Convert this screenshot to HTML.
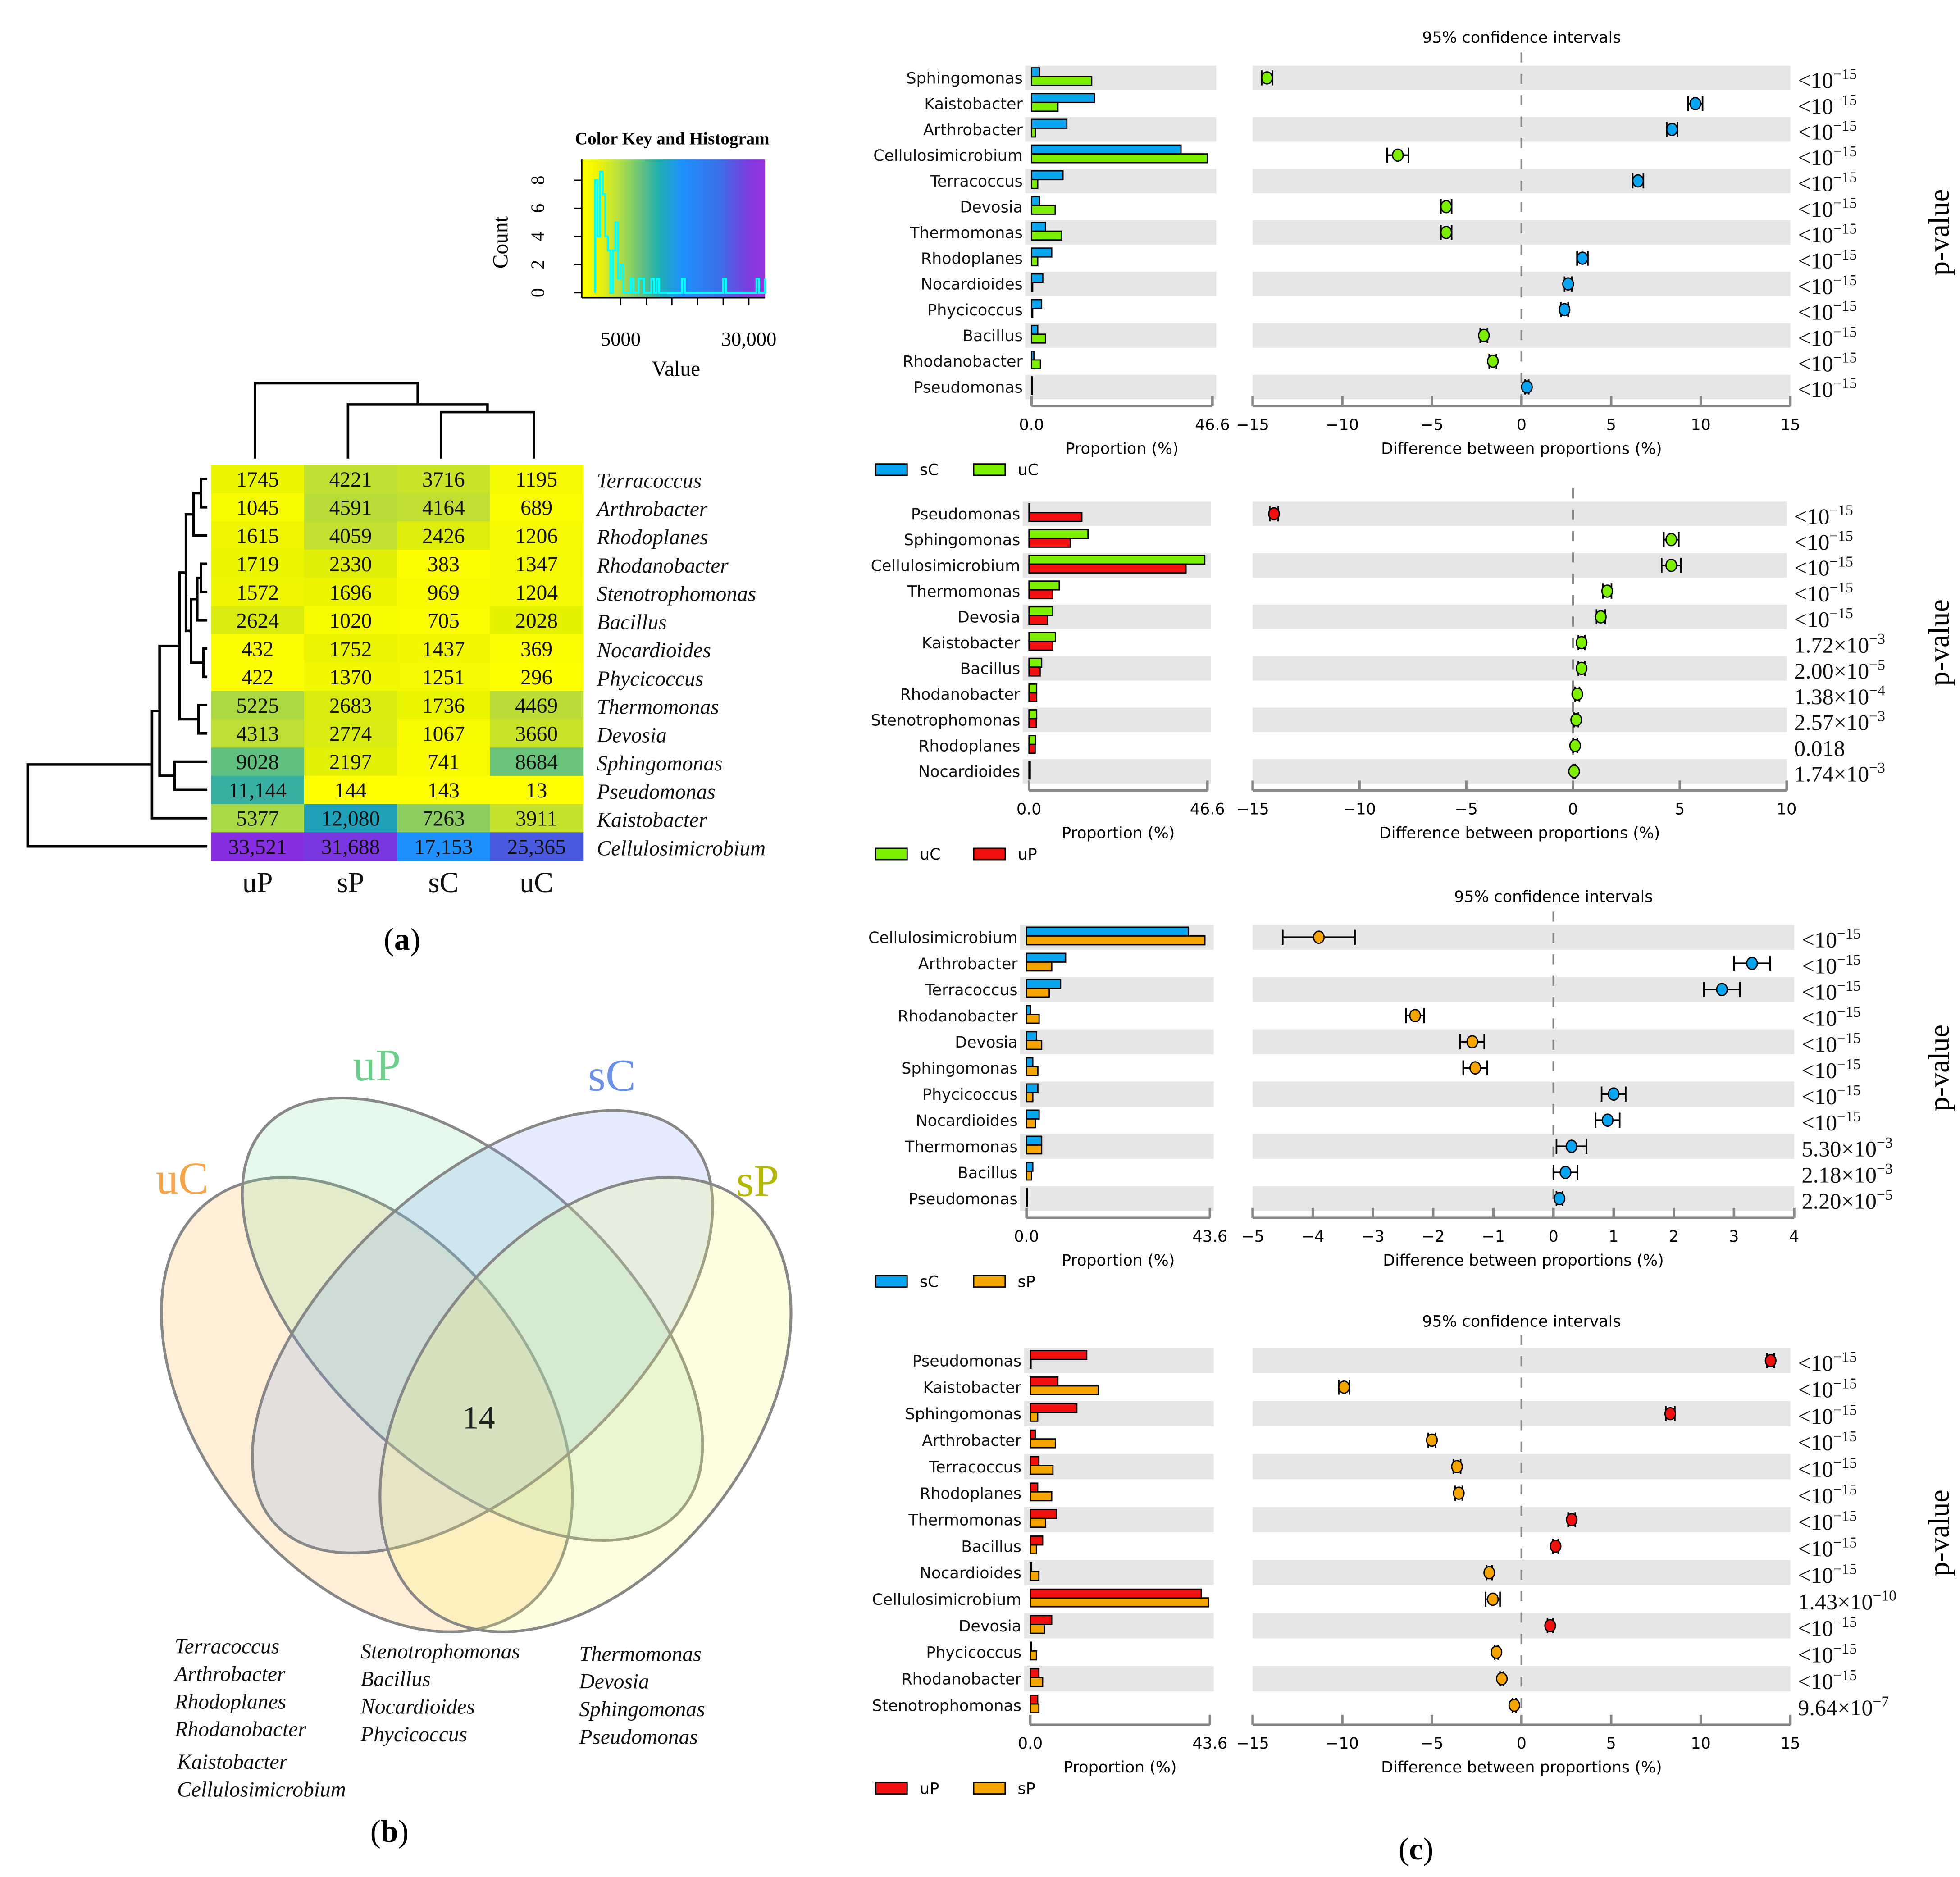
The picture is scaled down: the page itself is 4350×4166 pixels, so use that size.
<!DOCTYPE html>
<html><head><meta charset="utf-8"><title>Microbial community figure</title>
<style>
html,body{margin:0;padding:0;background:#fff;}
svg{display:block;}
.serif{font-family:"Liberation Serif","DejaVu Serif",serif;}
.sans{font-family:"DejaVu Sans","Liberation Sans",sans-serif;}
</style></head>
<body>
<svg id="fig" xmlns="http://www.w3.org/2000/svg" width="4350" height="4166" viewBox="0 0 1560 1494" preserveAspectRatio="none">
<rect x="0" y="0" width="1560" height="1494" fill="#fff"/>
<g id="panelA"></g>
<g id="panelB">
  <ellipse cx="292" cy="1118" rx="205" ry="132" transform="rotate(52 292 1118)" fill="rgb(250,190,90)" fill-opacity="0.25" stroke="#888" stroke-width="2.2"/>
  <ellipse cx="376" cy="1050" rx="225" ry="118" transform="rotate(43 376 1050)" fill="rgb(120,220,160)" fill-opacity="0.2" stroke="#888" stroke-width="2.2"/>
  <ellipse cx="384" cy="1060" rx="225" ry="118" transform="rotate(-43 384 1060)" fill="rgb(120,160,250)" fill-opacity="0.2" stroke="#888" stroke-width="2.2"/>
  <ellipse cx="466" cy="1118" rx="205" ry="132" transform="rotate(-52 466 1118)" fill="rgb(245,245,110)" fill-opacity="0.22" stroke="#888" stroke-width="2.2"/>
  <text x="300" y="860" class="serif" font-size="36" fill="#6dd08a" text-anchor="middle">uP</text>
  <text x="487" y="868" class="serif" font-size="36" fill="#6a90e8" text-anchor="middle">sC</text>
  <text x="145" y="950" class="serif" font-size="36" fill="#f5a54a" text-anchor="middle">uC</text>
  <text x="603" y="952" class="serif" font-size="36" fill="#b5b800" text-anchor="middle">sP</text>
  <text x="381" y="1137" class="serif" font-size="26" fill="#222" text-anchor="middle">14</text>
  <g class="serif" font-size="17" font-style="italic" fill="#111">
    <text x="139" y="1316">Terracoccus</text><text x="139" y="1338">Arthrobacter</text><text x="139" y="1360">Rhodoplanes</text><text x="139" y="1382">Rhodanobacter</text><text x="141" y="1408">Kaistobacter</text><text x="141" y="1430">Cellulosimicrobium</text>
    <text x="287" y="1320">Stenotrophomonas</text><text x="287" y="1342">Bacillus</text><text x="287" y="1364">Nocardioides</text><text x="287" y="1386">Phycicoccus</text>
    <text x="461" y="1322">Thermomonas</text><text x="461" y="1344">Devosia</text><text x="461" y="1366">Sphingomonas</text><text x="461" y="1388">Pseudomonas</text>
  </g>
</g>
<g class="serif" font-size="25" fill="#000">
  <text x="320" y="756" text-anchor="middle">(<tspan font-weight="bold">a</tspan>)</text>
  <text x="310" y="1466" text-anchor="middle">(<tspan font-weight="bold">b</tspan>)</text>
  <text x="1127" y="1480" text-anchor="middle">(<tspan font-weight="bold">c</tspan>)</text>
</g>
<g id="panelC"></g>
</svg>
<script>
const hmTaxa = ["Terracoccus","Arthrobacter","Rhodoplanes","Rhodanobacter","Stenotrophomonas","Bacillus","Nocardioides","Phycicoccus","Thermomonas","Devosia","Sphingomonas","Pseudomonas","Kaistobacter","Cellulosimicrobium"];
const hmSamples = ["uP","sP","sC","uC"];
const hmUP = [1745,1045,1615,1719,1572,2624,432,422,5225,4313,9028,11144,5377,33521];
const hmSP = [4221,4591,4059,2330,1696,1020,1752,1370,2683,2774,2197,144,12080,31688];
const hmSC = [3716,4164,2426,383,969,705,1437,1251,1736,1067,741,143,7263,17153];
const hmUC = [1195,689,1206,1347,1204,2028,369,296,4469,3660,8684,13,3911,25365];
const keyTicks = [5000,30000];
const countTicks = [0,2,4,6,8];
const rowMerges = [[0,1,160],[14,2,154],[3,4,160],[6,7,162],[16,5,157],[18,17,152],[15,19,148],[8,9,158],[20,21,143],[10,11,139],[22,23,127],[24,12,121],[25,13,22]];
const colMerges = [[2,3,328],[1,4,322],[0,5,305]];

const p1Taxa = ["Sphingomonas","Kaistobacter","Arthrobacter","Cellulosimicrobium","Terracoccus","Devosia","Thermomonas","Rhodoplanes","Nocardioides","Phycicoccus","Bacillus","Rhodanobacter","Pseudomonas"];
const p1SC = [2.0,16.2,9.1,38.5,8.1,2.0,3.6,5.2,2.9,2.6,1.6,0.6,0.1];
const p1UC = [15.5,6.8,1.0,45.3,1.6,6.1,7.8,1.6,0.3,0.3,3.6,2.3,0.05];
const p1Diff = [-14.2,9.7,8.4,-6.9,6.5,-4.2,-4.2,3.4,2.6,2.4,-2.1,-1.6,0.3];
const p1CI = [0.3,0.4,0.3,0.6,0.3,0.3,0.3,0.3,0.2,0.2,0.2,0.2,0.1];
const p1P = ["<15","<15","<15","<15","<15","<15","<15","<15","<15","<15","<15","<15","<15"];
const p1Ticks = [-15,-10,-5,0,5,10,15];

const p2Taxa = ["Pseudomonas","Sphingomonas","Cellulosimicrobium","Thermomonas","Devosia","Kaistobacter","Bacillus","Rhodanobacter","Stenotrophomonas","Rhodoplanes","Nocardioides"];
const p2UC = [0.05,15.4,45.9,7.9,6.2,6.9,3.3,2.0,2.0,1.7,0.3];
const p2UP = [13.8,10.8,41.0,6.2,4.9,6.2,2.9,2.0,1.9,1.6,0.3];
const p2Diff = [-14.0,4.6,4.6,1.6,1.3,0.4,0.4,0.2,0.15,0.1,0.05];
const p2CI = [0.2,0.35,0.45,0.2,0.2,0.15,0.15,0.1,0.1,0.1,0.05];
const p2P = ["<15","<15","<15","<15","<15","1.72|3","2.00|5","1.38|4","2.57|3","0.018","1.74|3"];
const p2Ticks = [-15,-10,-5,0,5,10];

const p3Taxa = ["Cellulosimicrobium","Arthrobacter","Terracoccus","Rhodanobacter","Devosia","Sphingomonas","Phycicoccus","Nocardioides","Thermomonas","Bacillus","Pseudomonas"];
const p3SC = [38.5,9.3,8.1,0.9,2.4,1.5,2.7,3.0,3.6,1.5,0.1];
const p3SP = [42.4,6.0,5.4,3.0,3.6,2.7,1.5,2.1,3.6,1.2,0.05];
const p3Diff = [-3.9,3.3,2.8,-2.3,-1.35,-1.3,1.0,0.9,0.3,0.2,0.1];
const p3CI = [0.6,0.3,0.3,0.15,0.2,0.2,0.2,0.2,0.25,0.2,0.05];
const p3P = ["<15","<15","<15","<15","<15","<15","<15","<15","5.30|3","2.18|3","2.20|5"];
const p3Ticks = [-5,-4,-3,-2,-1,0,1,2,3,4];

const p4Taxa = ["Pseudomonas","Kaistobacter","Sphingomonas","Arthrobacter","Terracoccus","Rhodoplanes","Thermomonas","Bacillus","Nocardioides","Cellulosimicrobium","Devosia","Phycicoccus","Rhodanobacter","Stenotrophomonas"];
const p4UP = [13.7,6.7,11.3,1.2,2.1,1.8,6.4,3.0,0.3,41.5,5.2,0.3,2.1,1.8];
const p4SP = [0.05,16.5,1.8,6.1,5.5,5.2,3.7,1.5,2.1,43.3,3.4,1.5,3.0,2.1];
const p4Diff = [13.9,-9.9,8.3,-5.0,-3.6,-3.5,2.8,1.9,-1.8,-1.6,1.6,-1.4,-1.1,-0.4];
const p4CI = [0.2,0.3,0.25,0.2,0.2,0.2,0.2,0.15,0.15,0.4,0.15,0.1,0.1,0.1];
const p4P = ["<15","<15","<15","<15","<15","<15","<15","<15","<15","1.43|10","<15","<15","<15","9.64|7"];
const p4Ticks = [-15,-10,-5,0,5,10,15];

const NS = "http://www.w3.org/2000/svg";
function el(tag, attrs, parent){
  const e = document.createElementNS(NS, tag);
  for (const k in attrs) e.setAttribute(k, attrs[k]);
  parent.appendChild(e);
  return e;
}
function fmt(v){ return v >= 10000 ? v.toLocaleString("en-US") : String(v); }

const cStops = [[0,[255,255,0]],[1200,[246,250,0]],[2000,[228,242,0]],[4000,[196,224,48]],[5400,[168,216,70]],[7300,[140,204,96]],[9000,[96,192,128]],[11100,[56,176,160]],[12100,[30,160,184]],[17100,[30,144,255]],[25300,[74,90,224]],[34000,[140,43,226]]];
function colorOf(v){
  for (let i=1;i<cStops.length;i++){
    if (v <= cStops[i][0]){
      const a=cStops[i-1], b=cStops[i], t=(v-a[0])/(b[0]-a[0]);
      const c=a[1].map((x,j)=>Math.round(x+(b[1][j]-x)*t));
      return "rgb("+c.join(",")+")";
    }
  }
  return "rgb(140,43,226)";
}

(function(){
  const g = document.getElementById("panelA");
  const x0=168, cw=74, y0=370, rh=22.5;
  const cols=[hmUP,hmSP,hmSC,hmUC];
  const rowY = i => y0 + rh*i + rh/2;
  const colX = j => x0 + cw*j + cw/2;
  for (let i=0;i<hmTaxa.length;i++){
    for (let j=0;j<4;j++){
      const v = cols[j][i];
      const r = el("rect",{x:x0+cw*j, y:y0+rh*i, width:cw+0.5, height:rh+0.5, fill:colorOf(v)}, g);
      
      
      const t = el("text",{x:colX(j), y:rowY(i)+6, "text-anchor":"middle", "font-size":17, class:"serif", fill:"#111"}, g);
      t.textContent = fmt(v);
      
      
    }
    const lt = el("text",{x:475, y:rowY(i)+7, "font-size":17, "font-style":"italic", class:"serif", fill:"#111"}, g);
    lt.textContent = hmTaxa[i];
    
    
  }
  for (let j=0;j<4;j++){
    const ct = el("text",{x:colX(j), y:710, "text-anchor":"middle", "font-size":23, class:"serif", fill:"#111"}, g);
    ct.textContent = hmSamples[j];
    
    
  }
  const pos = [];
  for (let i=0;i<hmTaxa.length;i++) pos.push({y:rowY(i), x:165});
  let d = "";
  rowMerges.forEach(m=>{
    const a=pos[m[0]], b=pos[m[1]], h=m[2];
    d += `M${a.x},${a.y}H${h}V${b.y}H${b.x}`;
    pos.push({y:(a.y+b.y)/2, x:h});
  });
  const rd = el("path",{d:d, fill:"none", stroke:"#000", "stroke-width":2}, g);
  
  
  const cp = [];
  for (let j=0;j<4;j++) cp.push({x:colX(j)-2, y:365});
  let d2 = "";
  colMerges.forEach(m=>{
    const a=cp[m[0]], b=cp[m[1]], h=m[2];
    d2 += `M${a.x},${a.y}V${h}H${b.x}V${b.y}`;
    cp.push({x:(a.x+b.x)/2, y:h});
  });
  const cd = el("path",{d:d2, fill:"none", stroke:"#000", "stroke-width":2}, g);
  
  

  const defs = el("defs",{}, g);
  const lg = el("linearGradient",{id:"keyGrad", x1:0, x2:1, y1:0, y2:0}, defs);
  [[0,"#ffff00"],[0.08,"#f2f500"],[0.2,"#b8e040"],[0.33,"#60c080"],[0.42,"#20b0b0"],[0.55,"#1e90ff"],[0.75,"#3a70e8"],[0.9,"#7a3ee0"],[1,"#9a30e0"]].forEach(s=>{
    el("stop",{offset:s[0], "stop-color":s[1]}, lg);
  });
  const kb = el("rect",{x:463, y:127, width:146, height:110, fill:"url(#keyGrad)"}, g);
  
  
  const kx = v => 473.6 + v*0.00408;
  const ky = c => 233 - c*11.2;
  const all = hmUP.concat(hmSP,hmSC,hmUC);
  const binW = 500, nb = 68;
  const counts = new Array(nb).fill(0);
  all.forEach(v=>{ const b=Math.min(nb-1,Math.floor(v/binW)); counts[b]++; });
  let hd = `M${kx(0)},${ky(0)}`;
  for (let b=0;b<nb;b++){
    hd += `V${ky(Math.min(counts[b],8.6))}H${Math.min(609,kx((b+1)*binW))}`;
  }
  hd += `V${ky(0)}`;
  const hp = el("path",{d:hd, fill:"none", stroke:"#00ffff", "stroke-width":1.6}, g);
  
  
  const ax = el("path",{d:`M463,237H609M463,237V127`, stroke:"#000", "stroke-width":1.2, fill:"none"}, g);
  
  
  [5000,10000,15000,20000,25000,30000].forEach(v=>{
    const tk = el("line",{x1:kx(v), x2:kx(v), y1:237, y2:243, stroke:"#000", "stroke-width":1}, g);
    
    
  });
  keyTicks.forEach(v=>{
    const t = el("text",{x:kx(v), y:275, "text-anchor":"middle", "font-size":16, class:"serif"}, g);
    t.textContent = v>=10000 ? v.toLocaleString("en-US") : String(v);
    
    
  });
  countTicks.forEach(c=>{
    const tk = el("line",{x1:457, x2:463, y1:ky(c), y2:ky(c), stroke:"#000", "stroke-width":1}, g);
    
    
    const t = el("text",{x:433, y:ky(c), "text-anchor":"middle", "font-size":15, class:"serif", transform:`rotate(-90 433 ${ky(c)})`}, g);
    t.textContent = c;
    
    
  });
  const kt = el("text",{x:535, y:115, "text-anchor":"middle", "font-size":14, "font-weight":"bold", class:"serif"}, g);
  kt.textContent = "Color Key and Histogram";
  
  
  const vl = el("text",{x:538, y:299, "text-anchor":"middle", "font-size":17, class:"serif"}, g);
  vl.textContent = "Value";
  
  
  const cl = el("text",{x:404, y:193, "text-anchor":"middle", "font-size":17, class:"serif", transform:"rotate(-90 404 193)"}, g);
  cl.textContent = "Count";
  
  
})();

function pText(parent, x, y, code){
  const t = el("text",{x:x, y:y, "font-size":18, class:"serif", fill:"#111"}, parent);
  
  
  let base, exp = null;
  if (code === "<15"){ base = "<10"; exp = "\u221215"; }
  else if (code.indexOf("|")>=0){ const s=code.split("|"); base = s[0]+"\u00d710"; exp = "\u2212"+s[1]; }
  else base = code;
  const b = el("tspan",{}, t); b.textContent = base;
  if (exp){ const e = el("tspan",{dy:-7, "font-size":12}, t); e.textContent = exp; }
}
function stamp(c){
  const g = el("g",{}, document.getElementById("panelC"));
  
  
  const n = c.taxa.length;
  const rowY = i => c.y0 + c.dy*i;
  const bx = v => c.bx0 + (v/c.bmax)*(c.bx1-c.bx0);
  const dx = v => c.dx0 + (v-c.dmin)/(c.dmax-c.dmin)*(c.dx1-c.dx0);
  const axisY = rowY(n-1) + c.dy/2 + 5;
  for (let i=0;i<n;i+=2){
    const s1 = el("rect",{x:c.bx0-5, y:rowY(i)-c.dy/2+0.5, width:c.bx1-c.bx0+8, height:c.dy-1, fill:"#e6e6e6"}, g);
    
    
    const s2 = el("rect",{x:c.dx0, y:rowY(i)-c.dy/2+0.5, width:c.dx1-c.dx0, height:c.dy-1, fill:"#e6e6e6"}, g);
    
    
  }
  if (c.title){
    const tt = el("text",{x:dx(0), y:c.titleY, "text-anchor":"middle", "font-size":12.5, class:"sans"}, g);
    tt.textContent = "95% confidence intervals";
    
    
  }
  const zl = el("line",{x1:dx(0), x2:dx(0), y1:rowY(0)-c.dy/2-10, y2:axisY, stroke:"#888", "stroke-width":1.6, "stroke-dasharray":"8,9"}, g);
  
  
  for (let i=0;i<n;i++){
    const y = rowY(i);
    const lb = el("text",{x:c.bx0-7, y:y+4.5, "text-anchor":"end", "font-size":12.5, class:"sans", fill:"#111"}, g);
    lb.textContent = c.taxa[i];
    
    
    const b1 = el("rect",{x:c.bx0, y:y-8, width:Math.max(0.6,bx(c.a[i])-c.bx0), height:7, fill:c.colA, stroke:"#000", "stroke-width":1}, g);
    
    
    const b2 = el("rect",{x:c.bx0, y:y-1, width:Math.max(0.6,bx(c.b[i])-c.bx0), height:7, fill:c.colB, stroke:"#000", "stroke-width":1}, g);
    
    
    const lo = dx(c.diff[i]-c.ci[i]), hi = dx(c.diff[i]+c.ci[i]);
    const eb = el("path",{d:`M${lo},${y}H${hi}M${lo},${y-6}V${y+6}M${hi},${y-6}V${y+6}`, stroke:"#000", "stroke-width":1.3, fill:"none"}, g);
    
    
    const pt = el("ellipse",{cx:dx(c.diff[i]), cy:y, rx:4.2, ry:4.8, fill:c.diff[i]>=0?c.colA:c.colB, stroke:"#000", "stroke-width":1}, g);
    
    
    pText(g, c.dx1+6, y+8, c.p[i]);
  }
  const ab = el("path",{d:`M${c.bx0},${axisY}H${c.bx1}M${c.bx0},${axisY}V${axisY-8}M${c.bx1},${axisY}V${axisY-8}`, stroke:"#888", "stroke-width":2, fill:"none"}, g);
  
  
  [[0,"0.0"],[c.bmax,String(c.bmax)]].forEach(v=>{
    const t = el("text",{x:bx(v[0]), y:axisY+19, "text-anchor":"middle", "font-size":12.5, class:"sans"}, g);
    t.textContent = v[1];
    
    
  });
  let ad = `M${c.dx0},${axisY}H${c.dx1}`;
  c.ticks.forEach(v=>{ ad += `M${dx(v)},${axisY}V${axisY-8}`; });
  const da = el("path",{d:ad, stroke:"#888", "stroke-width":2, fill:"none"}, g);
  
  
  c.ticks.forEach(v=>{
    const t = el("text",{x:dx(v), y:axisY+19, "text-anchor":"middle", "font-size":12.5, class:"sans"}, g);
    t.textContent = v<0 ? "\u2212"+Math.abs(v) : String(v);
    
    
  });
  const xt1 = el("text",{x:(c.bx0+c.bx1)/2, y:axisY+38, "text-anchor":"middle", "font-size":12.5, class:"sans"}, g);
  xt1.textContent = "Proportion (%)";
  
  
  const xt2 = el("text",{x:(c.dx0+c.dx1)/2, y:axisY+38, "text-anchor":"middle", "font-size":12.5, class:"sans"}, g);
  xt2.textContent = "Difference between proportions (%)";
  
  
  const ly = axisY + 46;
  const l1 = el("rect",{x:697, y:ly, width:25, height:9, fill:c.colA, stroke:"#000", "stroke-width":1}, g);
  
  
  const lt1 = el("text",{x:732, y:ly+9, "font-size":12.5, class:"sans"}, g);
  lt1.textContent = c.nameA;
  
  
  const l2 = el("rect",{x:775, y:ly, width:25, height:9, fill:c.colB, stroke:"#000", "stroke-width":1}, g);
  
  
  const lt2 = el("text",{x:810, y:ly+9, "font-size":12.5, class:"sans"}, g);
  lt2.textContent = c.nameB;
  
  
  const pv = el("text",{x:1551, y:(rowY(0)+rowY(n-1))/2, "text-anchor":"middle", "font-size":23, class:"serif", transform:`rotate(-90 1551 ${(rowY(0)+rowY(n-1))/2})`}, g);
  pv.textContent = "p-value";
  
  
}
const BLUE="#0aa5f0", GREEN="#7cf000", RED="#f01010", ORANGE="#f5a500";
stamp({name:"stamp-sc-vs-uc", taxa:p1Taxa, a:p1SC, b:p1UC, diff:p1Diff, ci:p1CI, p:p1P, ticks:p1Ticks, nameA:"sC", nameB:"uC", colA:BLUE, colB:GREEN, y0:62, dy:20.5, bx0:821, bx1:965, bmax:46.6, dx0:997, dx1:1425, dmin:-15, dmax:15, title:true, titleY:34});
stamp({name:"stamp-uc-vs-up", taxa:p2Taxa, a:p2UC, b:p2UP, diff:p2Diff, ci:p2CI, p:p2P, ticks:p2Ticks, nameA:"uC", nameB:"uP", colA:GREEN, colB:RED, y0:409, dy:20.5, bx0:819, bx1:961, bmax:46.6, dx0:997, dx1:1422, dmin:-15, dmax:10, title:false});
stamp({name:"stamp-sc-vs-sp", taxa:p3Taxa, a:p3SC, b:p3SP, diff:p3Diff, ci:p3CI, p:p3P, ticks:p3Ticks, nameA:"sC", nameB:"sP", colA:BLUE, colB:ORANGE, y0:746, dy:20.8, bx0:817, bx1:963, bmax:43.6, dx0:997, dx1:1428, dmin:-5, dmax:4, title:true, titleY:718});
stamp({name:"stamp-up-vs-sp", taxa:p4Taxa, a:p4UP, b:p4SP, diff:p4Diff, ci:p4CI, p:p4P, ticks:p4Ticks, nameA:"uP", nameB:"sP", colA:RED, colB:ORANGE, y0:1083, dy:21.1, bx0:820, bx1:963, bmax:43.6, dx0:997, dx1:1425, dmin:-15, dmax:15, title:true, titleY:1056});
</script>
</body></html>
